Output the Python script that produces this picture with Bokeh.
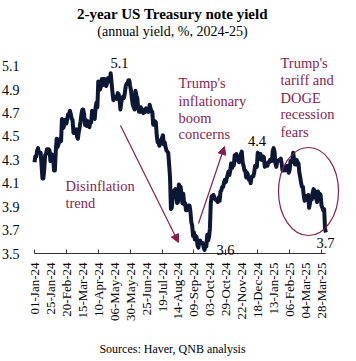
import math
import pandas as pd
from bokeh.plotting import figure
from bokeh.models import (Range1d, FixedTicker, Label, Arrow, NormalHead, ColumnDataSource)
from bokeh.embed import file_html
from bokeh.resources import INLINE

# ---------------- data ----------------
start_date = "2024-01-01"
end_date = "2025-04-04"
# 2-year US Treasury yield, business days (5 per week)
yields = [
    4.28, 4.33, 4.33, 4.38, 4.40,
    4.36, 4.36, 4.36, 4.25, 4.14,
    4.14, 4.22, 4.34, 4.35, 4.39,
    4.39, 4.39, 4.38, 4.29, 4.35,
    4.33, 4.34, 4.21, 4.21, 4.37,
    4.48, 4.41, 4.43, 4.46, 4.48,
    4.46, 4.65, 4.57, 4.58, 4.64,
    4.64, 4.61, 4.65, 4.69, 4.69,
    4.72, 4.69, 4.65, 4.64, 4.53,
    4.56, 4.55, 4.56, 4.50, 4.48,
    4.54, 4.58, 4.63, 4.69, 4.73,
    4.73, 4.69, 4.60, 4.64, 4.59,
    4.63, 4.59, 4.58, 4.62, 4.62,
    4.72, 4.69, 4.66, 4.65, 4.75,
    4.79, 4.75, 4.97, 4.95, 4.90,
    4.93, 4.99, 4.94, 4.99, 4.99,
    4.98, 4.93, 4.96, 5.00, 5.00,
    4.97, 5.04, 4.96, 4.88, 4.81,
    4.83, 4.84, 4.84, 4.82, 4.87,
    4.86, 4.82, 4.73, 4.79, 4.83,
    4.84, 4.83, 4.87, 4.93, 4.95,
    4.95, 4.98, 4.98, 4.93, 4.89,
    4.82, 4.77, 4.75, 4.73, 4.89,
    4.85, 4.83, 4.75, 4.71, 4.71,
    4.75, 4.71, 4.71, 4.70, 4.73,
    4.71, 4.74, 4.73, 4.71, 4.71,
    4.77, 4.74, 4.71, 4.71, 4.60,
    4.62, 4.63, 4.62, 4.51, 4.45,
    4.45, 4.42, 4.44, 4.47, 4.49,
    4.51, 4.43, 4.45, 4.41, 4.38,
    4.37, 4.36, 4.26, 4.15, 3.88,
    3.89, 3.98, 3.98, 4.04, 4.05,
    4.01, 3.93, 3.94, 4.09, 4.05,
    4.07, 3.99, 3.93, 4.01, 3.92,
    3.93, 3.87, 3.87, 3.89, 3.91,
    3.91, 3.86, 3.77, 3.74, 3.65,
    3.68, 3.62, 3.65, 3.64, 3.57,
    3.55, 3.59, 3.61, 3.59, 3.59,
    3.59, 3.55, 3.53, 3.58, 3.56,
    3.66, 3.61, 3.64, 3.71, 3.93,
    3.99, 3.98, 4.00, 3.98, 3.96,
    3.96, 3.95, 3.94, 3.98, 3.95,
    4.03, 4.04, 4.07, 4.07, 4.11,
    4.13, 4.11, 4.14, 4.17, 4.20,
    4.17, 4.21, 4.27, 4.23, 4.25,
    4.25, 4.34, 4.30, 4.35, 4.31,
    4.29, 4.28, 4.31, 4.35, 4.37,
    4.28, 4.25, 4.21, 4.21, 4.15,
    4.19, 4.17, 4.13, 4.15, 4.10,
    4.15, 4.16, 4.16, 4.19, 4.25,
    4.25, 4.24, 4.36, 4.31, 4.31,
    4.35, 4.30, 4.30, 4.33, 4.32,
    4.24, 4.25, 4.25, 4.25, 4.28,
    4.28, 4.30, 4.29, 4.29, 4.38,
    4.40, 4.37, 4.27, 4.24, 4.29,
    4.29, 4.30, 4.30, 4.31, 4.27,
    4.21, 4.21, 4.23, 4.21, 4.22,
    4.25, 4.23, 4.19, 4.21, 4.29,
    4.28, 4.29, 4.36, 4.31, 4.26,
    4.26, 4.30, 4.28, 4.27, 4.19,
    4.15, 4.10, 4.07, 4.07, 3.99,
    3.95, 3.97, 3.99, 3.96, 4.00,
    3.89, 3.93, 3.99, 3.96, 4.02,
    4.05, 4.04, 3.98, 3.97, 3.94,
    4.03, 4.01, 4.01, 4.00, 3.91,
    3.89, 3.87, 3.88, 3.71, 3.68,
]
tick_labels = ["01-Jan-24", "25-Jan-24", "20-Feb-24", "15-Mar-24", "10-Apr-24",
               "06-May-24", "30-May-24", "25-Jun-24", "19-Jul-24", "14-Aug-24",
               "09-Sep-24", "03-Oct-24", "29-Oct-24", "22-Nov-24", "18-Dec-24",
               "13-Jan-25", "06-Feb-25", "04-Mar-25", "28-Mar-25"]
y_ticks = [3.5, 3.7, 3.9, 4.1, 4.3, 4.5, 4.7, 4.9, 5.1]
value_labels = ["5.1", "4.4", "3.6", "3.7"]

dates = pd.bdate_range(start_date, end_date)
n = min(len(dates), len(yields))
idx = list(range(n))
src = ColumnDataSource(dict(i=idx, y=yields[:n]))

label_step = 18
tick_positions = [k * label_step for k in range(len(tick_labels))]
mark_positions = tick_positions[::2]

# ---------------- geometry (page px <-> data) ----------------
# the frame covers the whole canvas; both axes are pinned inside it
FL, FT, FW, FH = 0, 0, 350, 358
ORIGIN_PX = 34                         # page column of the first date
AXIS_PY = 253                          # page row of the 3.5 baseline
PX_PER_IDX = 0.8858
PX_PER_UNIT = 117.06
def dx(px):
    return (px - ORIGIN_PX) / PX_PER_IDX
def dy(py):
    return 3.5 + (AXIS_PY - py) / PX_PER_UNIT
X0, X1 = dx(FL), dx(FL + FW)
Y0, Y1 = dy(FT + FH), dy(FT)

SERIF = "Liberation Serif"
MAROON = "#861F4F"
NAVY = "#0B1734"

p = figure(frame_width=FW, frame_height=FH, output_backend="svg",
           toolbar_location=None, x_range=Range1d(X0, X1), y_range=Range1d(Y0, Y1),
           min_border_left=0, min_border_top=0, min_border_right=0,
           min_border_bottom=0)
p.outline_line_color = None
p.grid.grid_line_color = None
p.background_fill_color = "white"

p.line("i", "y", source=src, line_color=NAVY, line_width=4, line_join="round")

# x axis, pinned at the 3.5 baseline
xa = p.xaxis[0]
xa.fixed_location = 3.5
xa.ticker = FixedTicker(ticks=tick_positions, minor_ticks=mark_positions)
xa.major_label_overrides = {t: lab for t, lab in zip(tick_positions, tick_labels)}
xa.major_label_orientation = math.pi / 2
xa.major_tick_in = 0
xa.major_tick_out = 0
xa.minor_tick_in = 4
xa.minor_tick_out = 0
xa.minor_tick_line_color = "#333333"
xa.axis_line_color = "#333333"
xa.bounds = (0, n - 1)
xa.major_label_standoff = 9
xa.major_label_text_font = SERIF
xa.major_label_text_font_size = "13px"
xa.major_label_text_color = "black"

# y axis, pinned at the first date
ya = p.yaxis[0]
ya.fixed_location = 0
ya.ticker = FixedTicker(ticks=y_ticks)
ya.major_label_overrides = {t: f"{t:.1f}" for t in y_ticks}
ya.axis_line_color = None
ya.major_tick_line_color = None
ya.minor_tick_line_color = None
ya.major_label_standoff = 9
ya.major_label_text_font = SERIF
ya.major_label_text_font_size = "14px"
ya.major_label_text_color = "black"

def lab(text, px, py, size, color="black", align="left", style="normal"):
    p.add_layout(Label(x=dx(px), y=dy(py), text=text, text_font=SERIF,
                       text_font_size=f"{size}px", text_color=color,
                       text_align=align, text_baseline="middle",
                       text_font_style=style))

lab("2-year US Treasury note yield", 172, 13.5, 15, align="center", style="bold")
lab("(annual yield, %, 2024-25)", 172, 30.5, 14, align="center")
lab("Sources: Haver, QNB analysis", 172, 348, 12, align="center")

for t, (px, py) in zip(value_labels, [(119, 62.5), (256.5, 140), (225, 249), (325, 242)]):
    lab(t, px, py, 14.5, align="center")

for t, py in zip(["Disinflation", "trend"], [185, 202]):
    lab(t, 65, py, 14.5, color=MAROON)
for t, py in zip(["Trump's", "inflationary", "boom", "concerns"], [82, 100, 117, 133]):
    lab(t, 178, py, 14.5, color=MAROON)
for t, py in zip(["Trump's", "tariff and", "DOGE", "recession", "fears"], [62, 79, 97, 113, 131]):
    lab(t, 280, py, 14.5, color=MAROON)

for (x0, y0, x1, y1) in [(120, 125, 178, 242), (198, 223, 224, 146)]:
    p.add_layout(Arrow(x_start=dx(x0), y_start=dy(y0), x_end=dx(x1), y_end=dy(y1),
                       line_color=MAROON, line_width=1.2,
                       end=NormalHead(size=8, fill_color=MAROON, line_color=MAROON)))

p.ellipse(x=[dx(308)], y=[dy(191)], width=[dx(338) - dx(278)], height=[dy(147) - dy(235)],
          fill_color=None, line_color=MAROON, line_width=1.2)

open("out.html", "w").write(file_html(p, INLINE))
